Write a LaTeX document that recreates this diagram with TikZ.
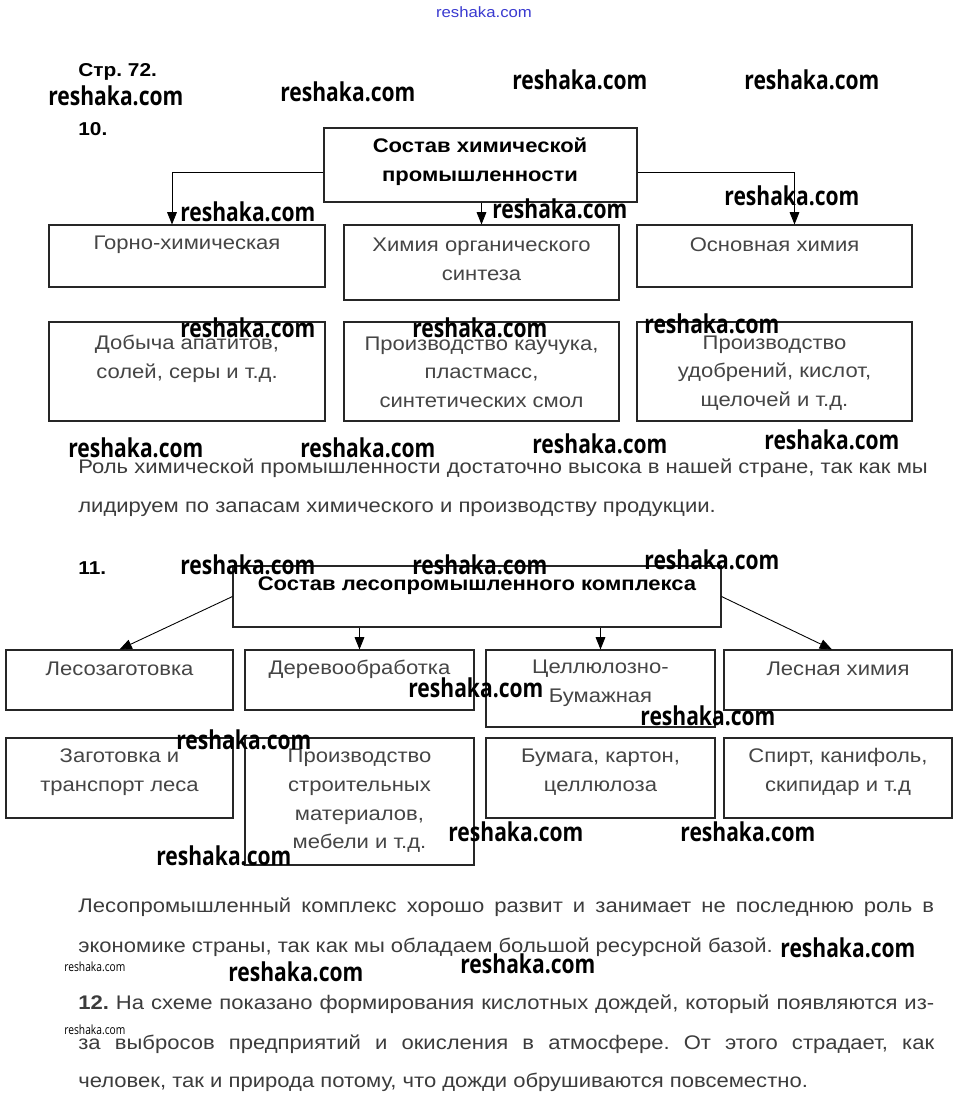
\documentclass[tikz,border=0pt]{standalone}
\usepackage{fontspec}
\setmainfont{Liberation Sans}[FakeStretch=1.12]
\newfontfamily\markfont{Open Sans}[FakeStretch=0.81]
\usetikzlibrary{arrows.meta,positioning,fit,calc}
\frenchspacing

\begin{document}
\begin{tikzpicture}[x=0.02cm, y=-0.02cm, >={Triangle[width=5.5pt,length=7pt]}]
\definecolor{Ink}{HTML}{3C3C3C}\definecolor{BoxInk}{HTML}{454545}\definecolor{MarkBlue}{HTML}{3A3AD0}
\tikzset{
  cell/.style={draw=black!85, line width=0.6pt, inner sep=0pt},
  boxtext/.style={text=BoxInk, font=\fontsize{11.2}{16.3}\selectfont, align=center, inner sep=0pt},
  head/.style={font=\bfseries\fontsize{11.2}{16.5}\selectfont, align=center, inner sep=0pt},
  num/.style={anchor=west, font=\bfseries\fontsize{10.6}{12}\selectfont, inner sep=0pt},
  para/.style={anchor=west, text=Ink, font=\fontsize{11.2}{13}\selectfont, inner sep=0pt},
  wmark/.style={anchor=west, font=\markfont\bfseries\fontsize{14.8}{16}\selectfont, inner sep=0pt},
  conn/.style={->, line width=0.5pt}
}
\useasboundingbox[fill=white] (0,0) rectangle (966,1109);

% page header
\node[num] (page) at (78,72) {Стр. 72.};
\node[num] (n10) at (78,129) {10.};

% chart 10
\node[cell, fit={(324,128) (637,202)}] (A) {};
\node[head] (tA) at (480,162) {Состав химической\\промышленности};
\node[cell, fit={(49,225) (325,287)}] (b1) {};
\node[cell, fit={(344,225) (619,300)}] (b2) {};
\node[cell, fit={(637,225) (912,287)}] (b3) {};
\node[cell, fit={(49,322) (325,421)}] (b4) {};
\node[cell, fit={(344,322) (619,421)}] (b5) {};
\node[cell, fit={(637,322) (912,421)}] (b6) {};
\node[boxtext] (t1) at (187,245) {Горно-химическая};
\node[boxtext] (t2) at (481.5,259.5) {Химия органического\\синтеза};
\node[boxtext] (t3) at (774.5,245) {Основная химия};
\node[boxtext] (t4) at (187,359) {Добыча апатитов,\\солей, серы и т.д.};
\node[boxtext] (t5) at (481.5,372) {Производство каучука,\\пластмасс,\\синтетических смол};
\node[boxtext] (t6) at (774.5,373) {Производство\\удобрений, кислот,\\щелочей и т.д.};
\draw[conn] ($(A.west)+(0,7)$) -| ($(b1.north)+(-15,0)$);
\draw[conn] (b2.north |- A.south) -- (b2.north);
\draw[conn] ($(A.east)+(0,7)$) -| ($(b3.north)+(20,0)$);

\node[para] (p1) at (78,468) {Роль химической промышленности достаточно высока в нашей стране, так как мы};
\node[para] (p2) at (78,509) {лидируем по запасам химического и производству продукции.};

% chart 11
\node[num] (n11) at (78,568) {11.};
\node[cell, fit={(233,566) (721,627)}] (B) {};
\node[head] (tB) at (477,586) {Состав лесопромышленного комплекса};
\node[cell, fit={(6,650) (233,710)}] (b7) {};
\node[cell, fit={(245,650) (474,710)}] (b8) {};
\node[cell, fit={(486,650) (715,727)}] (b9) {};
\node[cell, fit={(724,650) (952,710)}] (b10) {};
\node[cell, fit={(6,738) (233,818)}] (b11) {};
\node[cell, fit={(245,738) (474,865)}] (b12) {};
\node[cell, fit={(486,738) (715,818)}] (b13) {};
\node[cell, fit={(724,738) (952,818)}] (b14) {};
\node[boxtext] (t7) at (119.5,669) {Лесозаготовка};
\node[boxtext] (t8) at (359.5,669) {Деревообработка};
\node[boxtext] (t9) at (600.5,683.5) {Целлюлозно-\\Бумажная};
\node[boxtext] (t10) at (838,669) {Лесная химия};
\node[boxtext] (t11) at (119.5,772) {Заготовка и\\транспорт леса};
\node[boxtext] (t12) at (359.5,801) {Производство\\строительных\\материалов,\\мебели и т.д.};
\node[boxtext] (t13) at (600.5,772) {Бумага, картон,\\целлюлоза};
\node[boxtext] (t14) at (838,772) {Спирт, канифоль,\\скипидар и т.д};
\draw[conn] (B.west) -- (b7.north);
\draw[conn] (b8.north |- B.south) -- (b8.north);
\draw[conn] (b9.north |- B.south) -- (b9.north);
\draw[conn] (B.east) -- ($(b10.north)+(-6,0)$);

\node[para] (p3) at (78,907) {\makebox[17.12cm][s]{Лесопромышленный комплекс хорошо развит и занимает не последнюю роль в}};
\node[para] (p4) at (78,947) {экономике страны, так как мы обладаем большой ресурсной базой.};
\node[para] (p5) at (78,1004) {\makebox[17.12cm][s]{\textbf{12.} На схеме показано формирования кислотных дождей, который появляются из-}};
\node[para] (p6) at (78,1044) {\makebox[17.12cm][s]{за выбросов предприятий и окисления в атмосфере. От этого страдает, как}};
\node[para] (p7) at (78,1082) {человек, так и природа потому, что дожди обрушиваются повсеместно.};

% watermarks
\node[anchor=center, text=MarkBlue, font=\fontsize{8.5}{9}\selectfont, inner sep=0pt] (wtop) at (484,12) {reshaka.com};
\foreach \x/\y [count=\i] in {48/96,280/92,512/80,744/80,180/212,492/209,724/196,180/328,412/328,644/324,
  68/448,300/448,532/444,764/440,180/565,412/565,644/560,408/688,640/716,176/740,448/832,680/832,156/856,
  780/948,228/972,460/964}
  \node[wmark] (w\i) at (\x,\y) {reshaka.com};
\node[wmark, font=\markfont\fontsize{7.2}{8}\selectfont] (ws1) at (64,967) {reshaka.com};
\node[wmark, font=\markfont\fontsize{7.2}{8}\selectfont] (ws2) at (64,1030) {reshaka.com};
\end{tikzpicture}
\end{document}
